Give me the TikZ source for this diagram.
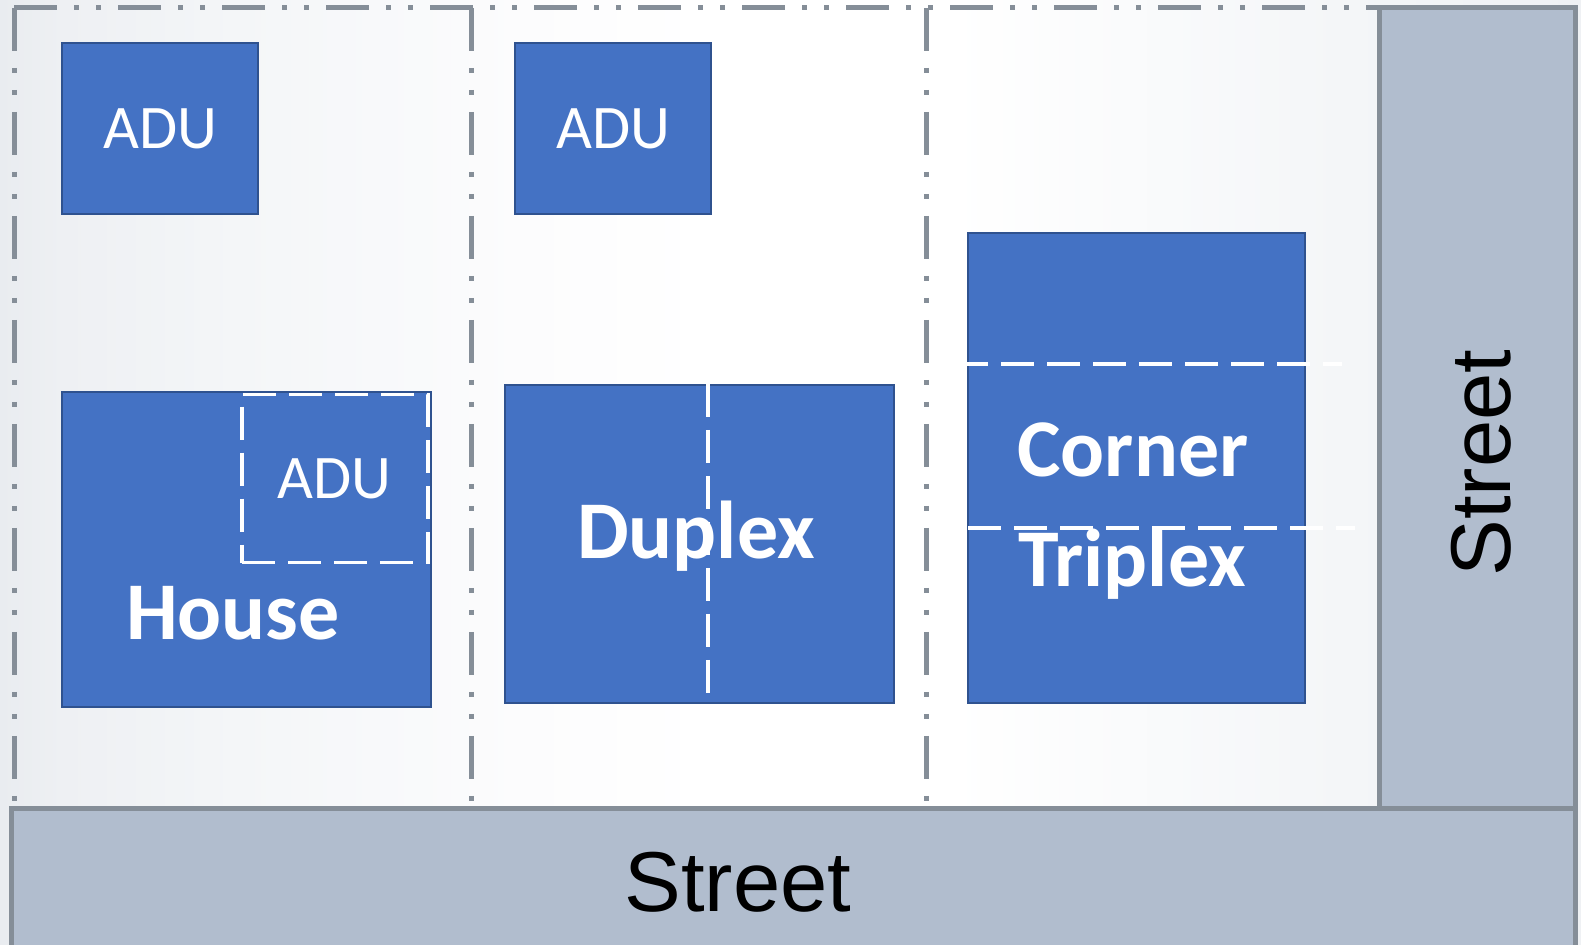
\documentclass[tikz,border=0pt]{standalone}
\usepackage{fontspec}
\setmainfont{Carlito}
\newfontfamily\streetfont{Liberation Sans}
\usetikzlibrary{positioning}

\definecolor{unitBlue}{HTML}{4472C4}
\definecolor{unitEdge}{HTML}{2F528F}
\definecolor{streetFill}{HTML}{B1BDCE}
\definecolor{lotGrey}{HTML}{858E98}
\definecolor{bgLeft}{HTML}{E9ECF0}
\definecolor{bgNear}{HTML}{EEF0F3}
\definecolor{bgSoft}{HTML}{F4F6F8}
\definecolor{bgPale}{HTML}{FCFCFD}
\definecolor{bgRight}{HTML}{EFF1F4}

% soft grey-white wash behind the lots
\pgfdeclarehorizontalshading{lotWash}{100bp}{color(0bp)=(bgLeft); color(25bp)=(bgLeft);
  color(27bp)=(bgNear); color(32.5bp)=(bgSoft); color(41.5bp)=(bgPale);
  color(47.5bp)=(white); color(55bp)=(white); color(67.5bp)=(bgSoft);
  color(75bp)=(bgRight); color(100bp)=(bgRight)}

\tikzset{%
  % Specifications for style of nodes:
        unit/.style = {rectangle, draw=unitEdge, line width=1pt, fill=unitBlue,
                       inner sep=0pt, anchor=north west, text=white,
                       font=\fontsize{31}{31}\selectfont},
    unitText/.style = {text=white, anchor=base,
                       font=\bfseries\fontsize{41}{41}\selectfont},
  streetText/.style = {anchor=base, font=\streetfont\fontsize{42.5}{42.5}\selectfont},
  % Specifications for style of lines:
     lotEdge/.style = {draw=lotGrey, line width=2.5pt,
                       dash pattern=on 21.5pt off 8.5pt on 2.5pt off 8.5pt on 2.5pt off 8.5pt},
      street/.style = {draw=lotGrey, line width=2.5pt, fill=streetFill},
   splitLine/.style = {draw=white, line width=1.75pt, dash pattern=on 16.5pt off 6.5pt},
}

\begin{document}
\begin{tikzpicture}[x=0.5pt, y=-0.5pt]
    \clip (0,0) rectangle (1581,945);
    \shade [shading=lotWash] (0,0) rectangle (1581,945);

    % lot lines
    \draw [lotEdge] (14,8) -- (1379,8);
    \draw [lotEdge] (14,8) -- (14,809);
    \draw [lotEdge] (471,8) -- (471,809);
    \draw [lotEdge] (926,8) -- (926,809);

    % streets
    \draw [street] (1379,8) rectangle (1575,809);
    \draw [street] (11,809) rectangle (1575,960);
    \node (streetText) [streetText] at (738,912) {Street};
    \node (sideStreetText) [streetText, rotate=90] at (1510,463) {Street};

    % first lot
    \node (adu1) [unit, minimum width=98pt, minimum height=85.5pt] at (61,42) {ADU};
    \node (house) [unit, minimum width=184.5pt, minimum height=157.5pt] at (61,391) {};
    \node (houseAdu) [splitLine, rectangle, inner sep=0pt, anchor=north west,
        minimum width=93pt, minimum height=84pt, text=white,
        font=\fontsize{31}{31}\selectfont] at (240,393) {ADU};
    \node (houseText) [unitText] at (233,640) {House};

    % second lot
    \node (adu2) [unit, minimum width=98pt, minimum height=85.5pt] at (514,42) {ADU};
    \node (duplex) [unit, minimum width=194.5pt, minimum height=159pt] at (504,384) {};
    \draw [splitLine] (708,384) -- (708,702);
    \node (duplexText) [unitText] at (696,559) {Duplex};

    % third lot
    \node (triplex) [unit, minimum width=168.5pt, minimum height=235pt] at (967,232) {};
    \draw [splitLine] (955,364) -- (1342,364);
    \draw [splitLine] (968,528) -- (1355,528);
    \node (cornerText) [unitText] at (1133,477) {Corner};
    \node (triplexText) [unitText] at (1132,587) {Triplex};
\end{tikzpicture}
\end{document}
